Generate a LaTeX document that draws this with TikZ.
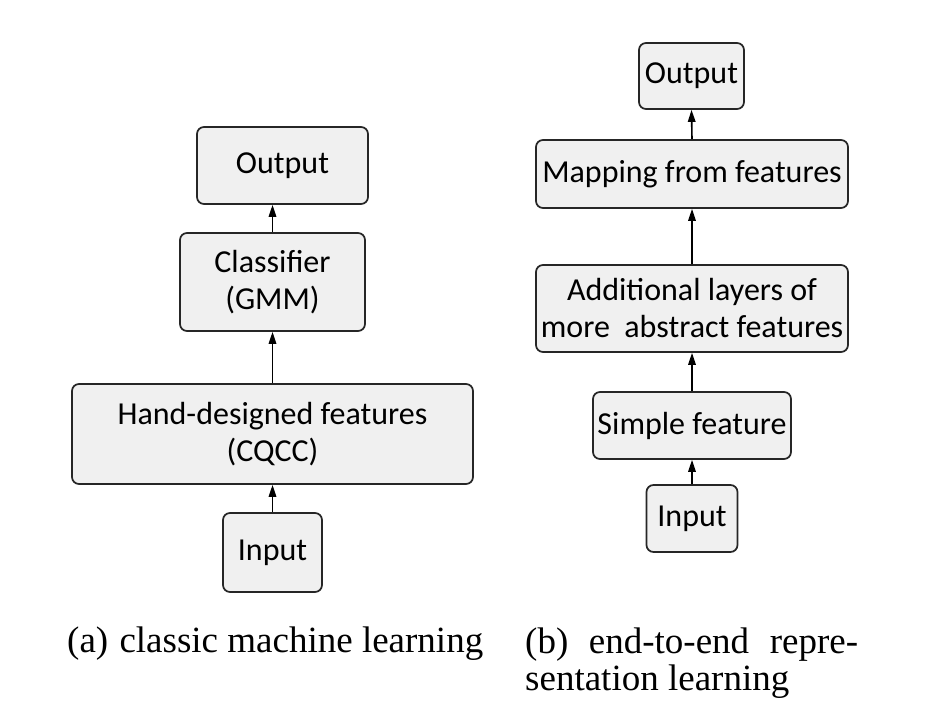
\documentclass[tikz,border=0pt]{standalone}
\usepackage{fontspec}
\setmainfont{Liberation Serif}
\newfontfamily\boxfont{Carlito}
\usetikzlibrary{arrows.meta}
\begin{document}
\begin{tikzpicture}[x=1pt,y=-1pt,
  box/.style={draw=black!85, fill=black!6, line width=1.7pt, rounded corners=7pt,
    font=\boxfont\fontsize{32}{37}\selectfont, align=center, inner sep=0pt, anchor=center},
  arr/.style={-{Triangle[length=12pt,width=7.5pt]}, line width=1.6pt, black},
  captext/.style={anchor=base west, inner sep=0pt, font=\fontsize{37}{37}\selectfont}]
\useasboundingbox (0,0) rectangle (927,720);
% left column
\node[box, minimum width=171pt, minimum height=77pt] (lo) at (282.5,165.5) {Output};
\node[box, minimum width=185pt, minimum height=98pt] (lc) at (272.5,282) {Classifier\\(GMM)};
\node[box, minimum width=401pt, minimum height=100pt] (lh) at (272.5,434) {Hand-designed features\\(CQCC)};
\node[box, minimum width=99pt, minimum height=79pt] (li) at (272.5,552.5) {Input};
\draw[arr] (li.north) -- (lh.south);
\draw[arr] (lh.north) -- (lc.south);
\draw[arr] (lc.north) -- (lc.north |- lo.south);
% right column
\node[box, minimum width=105pt, minimum height=66pt] (ro) at (691.5,76) {Output};
\node[box, minimum width=312pt, minimum height=68pt] (rm) at (692,174) {Mapping from features};
\node[box, minimum width=312pt, minimum height=87pt] (ra) at (692,308.5) {Additional layers of\\more\ \ abstract features};
\node[box, minimum width=198pt, minimum height=67pt] (rs) at (692,425.5) {Simple feature};
\node[box, minimum width=91pt, minimum height=67pt] (ri) at (692,518.5) {Input};
\draw[arr] (ri.north) -- (rs.south);
\draw[arr] (rs.north) -- (ra.south);
\draw[arr] (ra.north) -- (rm.south);
\draw[arr] (rm.north) -- (ro.south);
% captions
\node[captext] (capa) at (67,652) {\hbox to 416pt{(a)\hfill classic machine learning}};
\node[captext] (capb1) at (525,653) {\hbox to 333pt{(b)\hfill end-to-end\hfill repre-}};
\node[captext] (capb2) at (525,690) {sentation learning};
\end{tikzpicture}
\end{document}
